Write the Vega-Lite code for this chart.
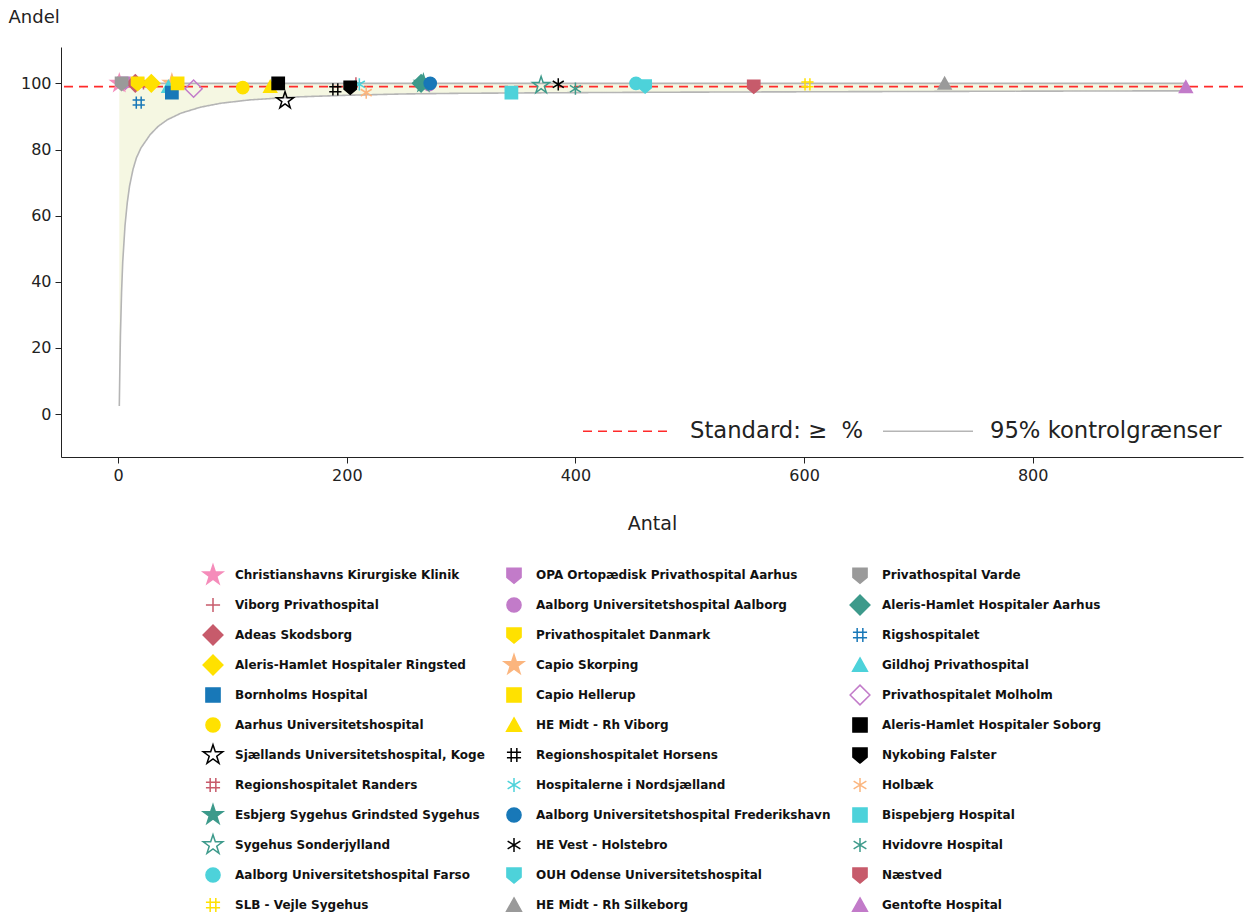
{
  "$schema": "https://vega.github.io/schema/vega-lite/v6.json",
  "width": 1182,
  "height": 410,
  "autosize": {"type": "none"},
  "padding": {"left": 61, "top": 47, "right": 2, "bottom": 458},
  "background": "white",
  "config": {
    "view": {"stroke": null},
    "font": "DejaVu Sans",
    "axis": {
      "labelFont": "DejaVu Sans",
      "labelFontSize": 16,
      "labelColor": "#222222",
      "tickColor": "#222222",
      "domainColor": "#222222",
      "tickSize": 6,
      "labelPadding": 4,
      "grid": false,
      "titleFont": "DejaVu Sans",
      "titleFontWeight": "normal",
      "titleColor": "#222222"
    }
  },
  "layer": [
    {
      "data": {
        "values": [
          {"n": 1, "lower": 2.4, "upper": 100, "type": "95% kontrolgrænser"},
          {"n": 1.5, "lower": 14, "upper": 100, "type": "95% kontrolgrænser"},
          {"n": 2, "lower": 24, "upper": 100, "type": "95% kontrolgrænser"},
          {"n": 3, "lower": 37, "upper": 100, "type": "95% kontrolgrænser"},
          {"n": 4, "lower": 46, "upper": 100, "type": "95% kontrolgrænser"},
          {"n": 6, "lower": 57, "upper": 100, "type": "95% kontrolgrænser"},
          {"n": 8, "lower": 64, "upper": 100, "type": "95% kontrolgrænser"},
          {"n": 10, "lower": 69, "upper": 100, "type": "95% kontrolgrænser"},
          {"n": 13, "lower": 74, "upper": 100, "type": "95% kontrolgrænser"},
          {"n": 16, "lower": 77.5, "upper": 100, "type": "95% kontrolgrænser"},
          {"n": 20, "lower": 80.5, "upper": 100, "type": "95% kontrolgrænser"},
          {"n": 28, "lower": 84.5, "upper": 100, "type": "95% kontrolgrænser"},
          {"n": 35, "lower": 87, "upper": 100, "type": "95% kontrolgrænser"},
          {"n": 43, "lower": 89, "upper": 100, "type": "95% kontrolgrænser"},
          {"n": 55, "lower": 91, "upper": 100, "type": "95% kontrolgrænser"},
          {"n": 72, "lower": 92.8, "upper": 100, "type": "95% kontrolgrænser"},
          {"n": 90, "lower": 94, "upper": 100, "type": "95% kontrolgrænser"},
          {"n": 115, "lower": 95, "upper": 100, "type": "95% kontrolgrænser"},
          {"n": 156, "lower": 95.9, "upper": 100, "type": "95% kontrolgrænser"},
          {"n": 200, "lower": 96.4, "upper": 100, "type": "95% kontrolgrænser"},
          {"n": 250, "lower": 96.8, "upper": 100, "type": "95% kontrolgrænser"},
          {"n": 300, "lower": 97, "upper": 100, "type": "95% kontrolgrænser"},
          {"n": 400, "lower": 97.2, "upper": 100, "type": "95% kontrolgrænser"},
          {"n": 500, "lower": 97.35, "upper": 100, "type": "95% kontrolgrænser"},
          {"n": 600, "lower": 97.45, "upper": 100, "type": "95% kontrolgrænser"},
          {"n": 700, "lower": 97.55, "upper": 100, "type": "95% kontrolgrænser"},
          {"n": 800, "lower": 97.65, "upper": 100, "type": "95% kontrolgrænser"},
          {"n": 934, "lower": 97.75, "upper": 100, "type": "95% kontrolgrænser"}
        ]
      },
      "layer": [
        {
          "mark": {"type": "area", "color": "#f5f7e2", "opacity": 1},
          "encoding": {
            "x": {
              "field": "n", "type": "quantitative",
              "scale": {"domain": [-50, 984], "nice": false, "zero": false},
              "axis": {"values": [0, 200, 400, 600, 800], "title": "Antal", "titleFontSize": 19, "titlePadding": 31}
            },
            "y": {
              "field": "lower", "type": "quantitative",
              "scale": {"domain": [-13, 111], "nice": false, "zero": false},
              "axis": {"values": [0, 20, 40, 60, 80, 100], "title": "Andel", "titleFontSize": 18, "titleAngle": 0, "titleAlign": "left", "titleBaseline": "middle", "titleX": -53, "titleY": -30}
            },
            "y2": {"field": "upper"}
          }
        },
        {
          "mark": {"type": "line", "strokeWidth": 1.6},
          "encoding": {
            "x": {"field": "n", "type": "quantitative"},
            "y": {"field": "lower", "type": "quantitative"},
            "color": {"field": "type", "type": "nominal",
              "scale": {"domain": ["Standard: ≥ \u00a0%", "95% kontrolgrænser"], "range": ["#ff2a2a", "#b5b5b5"]},
              "legend": {
                "orient": "none", "legendX": 521, "legendY": 338, "direction": "horizontal", "title": null,
                "symbolType": "stroke", "symbolSize": 8100, "symbolStrokeWidth": 1.5,
                "labelFontSize": 22.7, "labelFont": "DejaVu Sans", "labelColor": "#222222", "labelOffset": 16,
                "labelLimit": 400, "columnPadding": 16, "padding": 0
              }
            },
            "strokeDash": {"field": "type", "type": "nominal",
              "scale": {"domain": ["Standard: ≥ \u00a0%", "95% kontrolgrænser"], "range": [[9, 6], [1, 0]]},
              "legend": {
                "orient": "none", "legendX": 521, "legendY": 338, "direction": "horizontal", "title": null,
                "symbolType": "stroke", "symbolSize": 8100, "symbolStrokeWidth": 1.5,
                "labelFontSize": 22.7, "labelFont": "DejaVu Sans", "labelColor": "#222222", "labelOffset": 16,
                "labelLimit": 400, "columnPadding": 16, "padding": 0
              }
            }
          }
        },
        {
          "mark": {"type": "line", "strokeWidth": 1.6},
          "encoding": {
            "x": {"field": "n", "type": "quantitative"},
            "y": {"field": "upper", "type": "quantitative"},
            "color": {"field": "type", "type": "nominal"},
            "strokeDash": {"field": "type", "type": "nominal"}
          }
        },
        {
          "data": {"values": [{"standard": 99, "type": "Standard: ≥ \u00a0%"}]},
          "mark": {"type": "rule", "strokeWidth": 1.8},
          "encoding": {
            "y": {"field": "standard", "type": "quantitative"},
            "color": {"field": "type", "type": "nominal"},
            "strokeDash": {"field": "type", "type": "nominal"}
          }
        }
      ]
    },
    {
      "data": {
        "values": [
          {"hospital": "Regionshospitalet Randers", "n": 20, "andel": 100},
          {"hospital": "Aalborg Universitetshospital Aalborg", "n": 272, "andel": 99.6},
          {"hospital": "Aleris-Hamlet Hospitaler Aarhus", "n": 265, "andel": 100},
          {"hospital": "OPA Ortopædisk Privathospital Aarhus", "n": 5, "andel": 100},
          {"hospital": "Capio Skorping", "n": 47, "andel": 100},
          {"hospital": "Gildhoj Privathospital", "n": 44, "andel": 99},
          {"hospital": "Christianshavns Kirurgiske Klinik", "n": 1, "andel": 100},
          {"hospital": "Viborg Privathospital", "n": 208, "andel": 100},
          {"hospital": "Adeas Skodsborg", "n": 15, "andel": 100},
          {"hospital": "Privathospitalet Danmark", "n": 17, "andel": 100},
          {"hospital": "Aleris-Hamlet Hospitaler Ringsted", "n": 29, "andel": 100},
          {"hospital": "Bornholms Hospital", "n": 47, "andel": 97.2},
          {"hospital": "Aarhus Universitetshospital", "n": 109, "andel": 98.7},
          {"hospital": "HE Midt - Rh Viborg", "n": 133, "andel": 99},
          {"hospital": "Sjællands Universitetshospital, Koge", "n": 146, "andel": 94.8},
          {"hospital": "Esbjerg Sygehus Grindsted Sygehus", "n": 267, "andel": 100},
          {"hospital": "Sygehus Sonderjylland", "n": 370, "andel": 99.4},
          {"hospital": "Aalborg Universitetshospital Farso", "n": 453, "andel": 100},
          {"hospital": "SLB - Vejle Sygehus", "n": 603, "andel": 99.7},
          {"hospital": "Capio Hellerup", "n": 52, "andel": 100},
          {"hospital": "Regionshospitalet Horsens", "n": 190, "andel": 98.2},
          {"hospital": "Hospitalerne i Nordsjælland", "n": 211, "andel": 99.7},
          {"hospital": "Aalborg Universitetshospital Frederikshavn", "n": 273, "andel": 100},
          {"hospital": "HE Vest - Holstebro", "n": 385, "andel": 99.7},
          {"hospital": "OUH Odense Universitetshospital", "n": 461, "andel": 99.2},
          {"hospital": "HE Midt - Rh Silkeborg", "n": 723, "andel": 100},
          {"hospital": "Privathospital Varde", "n": 3, "andel": 100},
          {"hospital": "Rigshospitalet", "n": 18, "andel": 94.2},
          {"hospital": "Privathospitalet Molholm", "n": 66, "andel": 98.4},
          {"hospital": "Aleris-Hamlet Hospitaler Soborg", "n": 140, "andel": 100},
          {"hospital": "Nykobing Falster", "n": 203, "andel": 98.8},
          {"hospital": "Holbæk", "n": 217, "andel": 97.2},
          {"hospital": "Bispebjerg Hospital", "n": 344, "andel": 97.2},
          {"hospital": "Hvidovre Hospital", "n": 400, "andel": 98.4},
          {"hospital": "Næstved", "n": 556, "andel": 99.1},
          {"hospital": "Gentofte Hospital", "n": 934, "andel": 98.9}
        ]
      },
      "mark": {"type": "point", "filled": true, "opacity": 1, "size": 150, "strokeWidth": 1.5},
      "encoding": {
        "x": {"field": "n", "type": "quantitative"},
        "y": {"field": "andel", "type": "quantitative"},
        "shape": {
          "field": "hospital", "type": "nominal",
          "scale": {
            "domain": ["Christianshavns Kirurgiske Klinik", "Viborg Privathospital", "Adeas Skodsborg", "Aleris-Hamlet Hospitaler Ringsted", "Bornholms Hospital", "Aarhus Universitetshospital", "Sjællands Universitetshospital, Koge", "Regionshospitalet Randers", "Esbjerg Sygehus Grindsted Sygehus", "Sygehus Sonderjylland", "Aalborg Universitetshospital Farso", "SLB - Vejle Sygehus", "OPA Ortopædisk Privathospital Aarhus", "Aalborg Universitetshospital Aalborg", "Privathospitalet Danmark", "Capio Skorping", "Capio Hellerup", "HE Midt - Rh Viborg", "Regionshospitalet Horsens", "Hospitalerne i Nordsjælland", "Aalborg Universitetshospital Frederikshavn", "HE Vest - Holstebro", "OUH Odense Universitetshospital", "HE Midt - Rh Silkeborg", "Privathospital Varde", "Aleris-Hamlet Hospitaler Aarhus", "Rigshospitalet", "Gildhoj Privathospital", "Privathospitalet Molholm", "Aleris-Hamlet Hospitaler Soborg", "Nykobing Falster", "Holbæk", "Bispebjerg Hospital", "Hvidovre Hospital", "Næstved", "Gentofte Hospital"],
            "range": [
              "M-1.5,-1.5M1.5,1.5M0,-1.45L0.33,-0.45L1.38,-0.45L0.53,0.17L0.85,1.17L0,0.55L-0.85,1.17L-0.53,0.17L-1.38,-0.45L-0.33,-0.45Z",
              "M-1.5,-1.5M1.5,1.5M0,-1L0,1M-1,0L1,0",
              "M-1.5,-1.5M1.5,1.5M-1.4,0L0,-1.4L1.4,0L0,1.4Z",
              "M-1.5,-1.5M1.5,1.5M-1.4,0L0,-1.4L1.4,0L0,1.4Z",
              "M-1.5,-1.5M1.5,1.5M-1,-1L1,-1L1,1L-1,1Z",
              "M-1.5,-1.5M1.5,1.5M1,0A1,1,0,1,1,-1,0A1,1,0,1,1,1,0Z",
              "M-1.5,-1.5M1.5,1.5M0,-1.45L0.33,-0.45L1.38,-0.45L0.53,0.17L0.85,1.17L0,0.55L-0.85,1.17L-0.53,0.17L-1.38,-0.45L-0.33,-0.45Z",
              "M-1.5,-1.5M1.5,1.5M-0.4,-1L-0.4,1M0.4,-1L0.4,1M-1,-0.4L1,-0.4M-1,0.4L1,0.4",
              "M-1.5,-1.5M1.5,1.5M0,-1.45L0.33,-0.45L1.38,-0.45L0.53,0.17L0.85,1.17L0,0.55L-0.85,1.17L-0.53,0.17L-1.38,-0.45L-0.33,-0.45Z",
              "M-1.5,-1.5M1.5,1.5M0,-1.45L0.33,-0.45L1.38,-0.45L0.53,0.17L0.85,1.17L0,0.55L-0.85,1.17L-0.53,0.17L-1.38,-0.45L-0.33,-0.45Z",
              "M-1.5,-1.5M1.5,1.5M1,0A1,1,0,1,1,-1,0A1,1,0,1,1,1,0Z",
              "M-1.5,-1.5M1.5,1.5M-0.4,-1L-0.4,1M0.4,-1L0.4,1M-1,-0.4L1,-0.4M-1,0.4L1,0.4",
              "M-1.5,-1.5M1.5,1.5M-1,-1L1,-1L1,0.3L0,1.15L-1,0.3Z",
              "M-1.5,-1.5M1.5,1.5M1,0A1,1,0,1,1,-1,0A1,1,0,1,1,1,0Z",
              "M-1.5,-1.5M1.5,1.5M-1,-1L1,-1L1,0.3L0,1.15L-1,0.3Z",
              "M-1.5,-1.5M1.5,1.5M0,-1.45L0.33,-0.45L1.38,-0.45L0.53,0.17L0.85,1.17L0,0.55L-0.85,1.17L-0.53,0.17L-1.38,-0.45L-0.33,-0.45Z",
              "M-1.5,-1.5M1.5,1.5M-1,-1L1,-1L1,1L-1,1Z",
              "M-1.5,-1.5M1.5,1.5M0,-1L1.05,0.9L-1.05,0.9Z",
              "M-1.5,-1.5M1.5,1.5M-0.4,-1L-0.4,1M0.4,-1L0.4,1M-1,-0.4L1,-0.4M-1,0.4L1,0.4",
              "M-1.5,-1.5M1.5,1.5M0,-1L0,1M-0.9,-0.55L0.9,0.55M-0.9,0.55L0.9,-0.55",
              "M-1.5,-1.5M1.5,1.5M1,0A1,1,0,1,1,-1,0A1,1,0,1,1,1,0Z",
              "M-1.5,-1.5M1.5,1.5M0,-1L0,1M-0.9,-0.55L0.9,0.55M-0.9,0.55L0.9,-0.55",
              "M-1.5,-1.5M1.5,1.5M-1,-1L1,-1L1,0.3L0,1.15L-1,0.3Z",
              "M-1.5,-1.5M1.5,1.5M0,-1L1.05,0.9L-1.05,0.9Z",
              "M-1.5,-1.5M1.5,1.5M-1,-1L1,-1L1,0.3L0,1.15L-1,0.3Z",
              "M-1.5,-1.5M1.5,1.5M-1.4,0L0,-1.4L1.4,0L0,1.4Z",
              "M-1.5,-1.5M1.5,1.5M-0.4,-1L-0.4,1M0.4,-1L0.4,1M-1,-0.4L1,-0.4M-1,0.4L1,0.4",
              "M-1.5,-1.5M1.5,1.5M0,-1L1.05,0.9L-1.05,0.9Z",
              "M-1.5,-1.5M1.5,1.5M-1.4,0L0,-1.4L1.4,0L0,1.4Z",
              "M-1.5,-1.5M1.5,1.5M-1,-1L1,-1L1,1L-1,1Z",
              "M-1.5,-1.5M1.5,1.5M-1,-1L1,-1L1,0.3L0,1.15L-1,0.3Z",
              "M-1.5,-1.5M1.5,1.5M0,-1L0,1M-0.9,-0.55L0.9,0.55M-0.9,0.55L0.9,-0.55",
              "M-1.5,-1.5M1.5,1.5M-1,-1L1,-1L1,1L-1,1Z",
              "M-1.5,-1.5M1.5,1.5M0,-1L0,1M-0.9,-0.55L0.9,0.55M-0.9,0.55L0.9,-0.55",
              "M-1.5,-1.5M1.5,1.5M-1,-1L1,-1L1,0.3L0,1.15L-1,0.3Z",
              "M-1.5,-1.5M1.5,1.5M0,-1L1.05,0.9L-1.05,0.9Z"
            ]
          },
          "legend": {"orient": "none", "legendX": 144, "legendY": 520, "columns": 3, "title": null, "symbolSize": 200, "symbolLimit": 0, "symbolStrokeWidth": 1.5, "labelFont": "DejaVu Sans", "labelFontSize": 12, "labelFontWeight": "bold", "labelColor": "#111111", "labelOffset": 14, "rowPadding": 2, "columnPadding": 15, "padding": 0, "labelLimit": 400}
        },
        "fill": {
          "field": "hospital", "type": "nominal",
          "scale": {
            "domain": ["Christianshavns Kirurgiske Klinik", "Viborg Privathospital", "Adeas Skodsborg", "Aleris-Hamlet Hospitaler Ringsted", "Bornholms Hospital", "Aarhus Universitetshospital", "Sjællands Universitetshospital, Koge", "Regionshospitalet Randers", "Esbjerg Sygehus Grindsted Sygehus", "Sygehus Sonderjylland", "Aalborg Universitetshospital Farso", "SLB - Vejle Sygehus", "OPA Ortopædisk Privathospital Aarhus", "Aalborg Universitetshospital Aalborg", "Privathospitalet Danmark", "Capio Skorping", "Capio Hellerup", "HE Midt - Rh Viborg", "Regionshospitalet Horsens", "Hospitalerne i Nordsjælland", "Aalborg Universitetshospital Frederikshavn", "HE Vest - Holstebro", "OUH Odense Universitetshospital", "HE Midt - Rh Silkeborg", "Privathospital Varde", "Aleris-Hamlet Hospitaler Aarhus", "Rigshospitalet", "Gildhoj Privathospital", "Privathospitalet Molholm", "Aleris-Hamlet Hospitaler Soborg", "Nykobing Falster", "Holbæk", "Bispebjerg Hospital", "Hvidovre Hospital", "Næstved", "Gentofte Hospital"],
            "range": ["#f58cba", "#c75b6b", "#c75b6b", "#ffe100", "#1878b8", "#ffe100", "transparent", "#c75b6b", "#3d9a8b", "transparent", "#4dd2da", "#ffe100", "#c27bc9", "#c27bc9", "#ffe100", "#fbb57e", "#ffe100", "#ffe100", "#000000", "#4dd2da", "#1878b8", "#000000", "#4dd2da", "#9a9a9a", "#9a9a9a", "#3d9a8b", "#1878b8", "#4dd2da", "transparent", "#000000", "#000000", "#fbb57e", "#4dd2da", "#3d9a8b", "#c75b6b", "#c27bc9"]
          },
          "legend": {"orient": "none", "legendX": 144, "legendY": 520, "columns": 3, "title": null, "symbolSize": 200, "symbolLimit": 0, "symbolStrokeWidth": 1.5, "labelFont": "DejaVu Sans", "labelFontSize": 12, "labelFontWeight": "bold", "labelColor": "#111111", "labelOffset": 14, "rowPadding": 2, "columnPadding": 15, "padding": 0, "labelLimit": 400}
        },
        "stroke": {
          "field": "hospital", "type": "nominal",
          "scale": {
            "domain": ["Christianshavns Kirurgiske Klinik", "Viborg Privathospital", "Adeas Skodsborg", "Aleris-Hamlet Hospitaler Ringsted", "Bornholms Hospital", "Aarhus Universitetshospital", "Sjællands Universitetshospital, Koge", "Regionshospitalet Randers", "Esbjerg Sygehus Grindsted Sygehus", "Sygehus Sonderjylland", "Aalborg Universitetshospital Farso", "SLB - Vejle Sygehus", "OPA Ortopædisk Privathospital Aarhus", "Aalborg Universitetshospital Aalborg", "Privathospitalet Danmark", "Capio Skorping", "Capio Hellerup", "HE Midt - Rh Viborg", "Regionshospitalet Horsens", "Hospitalerne i Nordsjælland", "Aalborg Universitetshospital Frederikshavn", "HE Vest - Holstebro", "OUH Odense Universitetshospital", "HE Midt - Rh Silkeborg", "Privathospital Varde", "Aleris-Hamlet Hospitaler Aarhus", "Rigshospitalet", "Gildhoj Privathospital", "Privathospitalet Molholm", "Aleris-Hamlet Hospitaler Soborg", "Nykobing Falster", "Holbæk", "Bispebjerg Hospital", "Hvidovre Hospital", "Næstved", "Gentofte Hospital"],
            "range": ["#f58cba", "#c75b6b", "#c75b6b", "#ffe100", "#1878b8", "#ffe100", "#000000", "#c75b6b", "#3d9a8b", "#3d9a8b", "#4dd2da", "#ffe100", "#c27bc9", "#c27bc9", "#ffe100", "#fbb57e", "#ffe100", "#ffe100", "#000000", "#4dd2da", "#1878b8", "#000000", "#4dd2da", "#9a9a9a", "#9a9a9a", "#3d9a8b", "#1878b8", "#4dd2da", "#c27bc9", "#000000", "#000000", "#fbb57e", "#4dd2da", "#3d9a8b", "#c75b6b", "#c27bc9"]
          },
          "legend": {"orient": "none", "legendX": 144, "legendY": 520, "columns": 3, "title": null, "symbolSize": 200, "symbolLimit": 0, "symbolStrokeWidth": 1.5, "labelFont": "DejaVu Sans", "labelFontSize": 12, "labelFontWeight": "bold", "labelColor": "#111111", "labelOffset": 14, "rowPadding": 2, "columnPadding": 15, "padding": 0, "labelLimit": 400}
        }
      }
    }
  ]
}
